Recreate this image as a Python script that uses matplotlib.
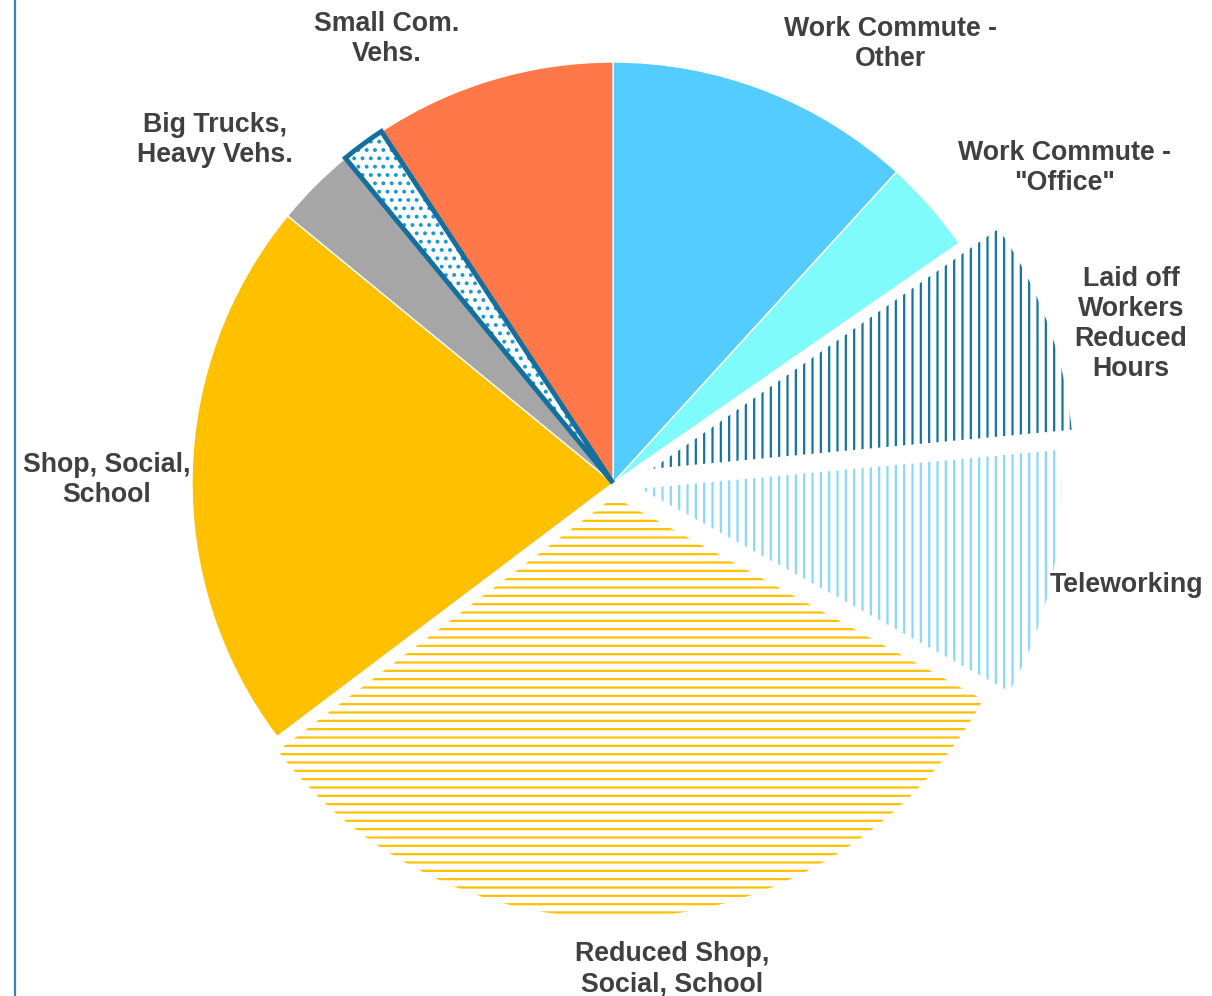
import matplotlib
matplotlib.use("Agg")
import matplotlib.pyplot as plt
import matplotlib.patches as mpatches

# slices, clockwise from 12 o'clock (share of travel, %)
labels = ['Work Commute -\nOther', 'Work Commute -\n"Office"',
          'Laid off\nWorkers\nReduced\nHours', 'Teleworking',
          'Reduced Shop,\nSocial, School', 'Shop, Social,\nSchool',
          'Big Trucks,\nHeavy Vehs.', '', 'Small Com.\nVehs.']
values = [11.8, 3.6, 8.2, 9.5, 31.8, 21.3, 3.1, 1.7, 9.3]
colors = ['#55CCFF', '#80FBFB', '#FFFFFF', '#FFFFFF', '#FFFFFF',
          '#FFC000', '#A6A6A6', '#FFFFFF', '#FF7849']
hatches = [None, None, '||', '||', '--', None, None, '..', None]
hatch_colors = [None, None, '#13749F', '#88D8FF', '#FFC000', None, None, '#1A9AD2', None]
explode = [0, 0, 42, 28, 14, 0, 0, 0, 0]

# label centres in pixel coordinates (x, y from top)
label_pos = [(891, 44), (1065, 168), (1131, 324), (1127, 585),
             (672, 969), (107, 480), (215, 140), None, (387, 39)]

W, H = 1212, 996
plt.rcParams['hatch.linewidth'] = 1.6
fig = plt.figure(figsize=(W / 100, H / 100), dpi=100)
ax = fig.add_axes([0, 0, 1, 1])

wedges, _ = ax.pie(values, colors=colors, explode=explode, startangle=90,
                   counterclock=False, radius=421, center=(613, H - 483),
                   wedgeprops=dict(edgecolor='white', linewidth=1))
ax.set_xlim(0, W)
ax.set_ylim(0, H)
ax.set_aspect('equal', adjustable='box')
ax.axis('off')

for w, h, hc in zip(wedges, hatches, hatch_colors):
    if h:
        w.set_edgecolor(hc)
        w.set_linewidth(0)
        w.set_hatch(h)

# outlined dotted slice
dw = wedges[7]
ax.add_patch(mpatches.Wedge(dw.center, dw.r, dw.theta1, dw.theta2, fill=False,
                            edgecolor='#13709E', linewidth=3.5, joinstyle='miter'))

for lab, pos in zip(labels, label_pos):
    if pos is None:
        continue
    ax.text(pos[0], H - pos[1], lab, ha='center', va='center', fontsize=19.3,
            fontweight='bold', color='#404040', family='Liberation Sans',
            linespacing=1.2)

fig.add_artist(plt.Line2D([15 / W, 15 / W], [0, 1], color='#2E86C8', linewidth=1.6))

fig.savefig('out.png', dpi=100)
